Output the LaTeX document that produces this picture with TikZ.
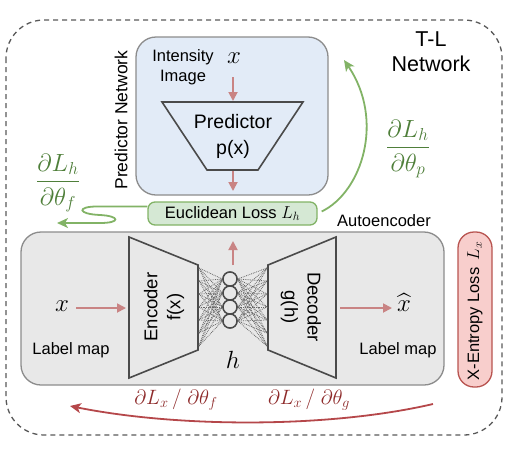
\documentclass[tikz,border=0pt]{standalone}
\usepackage{amsmath}
\usepackage{fontspec}
\setmainfont{Liberation Sans}
\usetikzlibrary{arrows.meta}
\definecolor{predfill}{HTML}{E2EBF7}
\definecolor{aefill}{HTML}{E8E8E8}
\definecolor{boxline}{HTML}{8C8C8C}
\definecolor{eucfill}{HTML}{D5E8D4}
\definecolor{eucline}{HTML}{82B366}
\definecolor{xefill}{HTML}{F8CECC}
\definecolor{xeline}{HTML}{B85450}
\definecolor{rosy}{HTML}{C98484}
\definecolor{gtext}{HTML}{4F7F3A}
\definecolor{rtext}{HTML}{8E2B2B}
\definecolor{rarr}{HTML}{B5474A}
\definecolor{trline}{HTML}{4A4A4A}
\begin{document}
\begin{tikzpicture}[x=1pt,y=-1pt,
  bigbox/.style={draw=boxline, line width=1.3pt, rounded corners=20},
  trap/.style={draw=trline, line width=1.6pt, line join=miter},
  rarrow/.style={draw=rosy, line width=1.8pt, -{Triangle[length=9pt,width=9pt]}},
  garrow/.style={draw=eucline, line width=1.8pt, -{Stealth[length=11pt,width=10pt,inset=3pt]}},
  redarrow/.style={draw=rarr, line width=1.8pt, -{Stealth[length=11pt,width=10pt,inset=3pt]}},
  lbl/.style={font=\fontsize{16.5}{18}\selectfont},
  big/.style={font=\fontsize{19.5}{22}\selectfont, align=center},
  mth/.style={font=\fontsize{24}{26}\selectfont, inner sep=1pt},
  frac/.style={font=\fontsize{25}{27}\selectfont},
  rfrac/.style={font=\fontsize{22}{24}\selectfont, text=rtext},
  neuron/.style={circle, draw=trline, line width=1.4pt, minimum size=14, inner sep=0pt},
  conn/.style={draw=black!60, densely dotted, line width=0.8pt}
]
\useasboundingbox (0,0) rectangle (510,450);
% outer dashed T-L network
\draw[draw=black!65, line width=1.3pt, dash pattern=on 5pt off 4pt, rounded corners=38] (6,20) rectangle (502,435);
\node[big, font=\fontsize{21.5}{25}\selectfont] (tl) at (431,52) {T-L\\Network};

% predictor network box
\node[bigbox, fill=predfill, minimum width=192, minimum height=158, inner sep=0pt] (pbox) at (232,116) {};
\node[lbl, rotate=90, font=\fontsize{17.5}{19}\selectfont] (pnlab) at (121,120) {Predictor Network};
\node[lbl, align=center, font=\fontsize{16.5}{20}\selectfont] (intens) at (183,67) {Intensity\\Image};
\node[mth] (xp) at (234,58) {$x$};
\fill[predfill] (162,102) -- (303,102) -- (258,170) -- (207,170) -- cycle;
\draw[trap] (162,102) -- (303,102) -- (258,170) -- (207,170) -- cycle;
\coordinate (ptop) at (233,101);
\coordinate (pbot) at (233,171);
\node[big, font=\fontsize{19.5}{26}\selectfont] (ptxt) at (233,136) {Predictor\\p(x)};
\draw[rarrow] (233,77) -- (ptop);
\coordinate (pout) at (233,191);
\draw[rarrow] (pbot) -- (pout);

% euclidean loss
\node[draw=eucline, fill=eucfill, line width=1.3pt, rounded corners=7, minimum width=169, minimum height=23, inner sep=0pt, lbl] (euc) at (232.5,213.5) {Euclidean Loss $L_h$};

% green arrows
\coordinate (gl) at (57,223);
\draw[garrow] (euc.west) ++(0,-7) -- (97,206.5) .. controls (77,206.5) and (77,214) .. (100,215) .. controls (120,216) and (121,223) .. (100,223) -- (gl);
\node[frac, text=gtext] (dlhf) at (58,183) {$\dfrac{\partial L_h}{\partial \theta_f}$};
\coordinate (gr) at (344,60);
\draw[garrow] (euc.east) ++(4,-2) .. controls (362,192) and (385,120) .. (gr);
\node[frac, text=gtext] (dlhp) at (408,149) {$\dfrac{\partial L_h}{\partial \theta_p}$};

% autoencoder box
\node[bigbox, fill=aefill, minimum width=423, minimum height=153, inner sep=0pt] (aebox) at (232.5,308.5) {};
\node[lbl] (aelab) at (384,221) {Autoencoder};

% encoder
\draw[trap, fill=aefill] (129,237) -- (198,265) -- (198,350) -- (129,378) -- cycle;
\node[big, rotate=90, font=\fontsize{18.5}{23}\selectfont] (enc) at (164,307) {Encoder\\f(x)};
% decoder
\draw[trap, fill=aefill] (268,265) -- (336,237) -- (336,378) -- (268,350) -- cycle;
\node[big, rotate=-90, font=\fontsize{18.5}{23}\selectfont] (dec) at (301,307) {Decoder\\g(h)};

% neurons
\foreach \i/\y in {1/279,2/293,3/307,4/321}{
  \node[neuron] (n\i) at (230,\y) {};
}
\foreach \y in {268,281,294,307,320,333,346}{
  \foreach \i in {1,2,3,4}{
    \draw[conn] (199,\y) -- (n\i.west);
    \draw[conn] (n\i.east) -- (267,\y);
  }
}
\foreach \i in {1,2,3,4}{\node[neuron, fill=aefill] at (n\i) {};}
\coordinate (hup) at (233,241);
\draw[rarrow] (233,265) -- (hup);
\node[mth] (h) at (233,360) {$h$};

% input / output
\node[mth] (xin) at (62,306) {$x$};
\coordinate (encin) at (126,308);
\draw[rarrow] (76,308) -- (encin);
\node[lbl] (lm1) at (71,350) {Label map};
\node[mth] (xhat) at (404,303) {$\widehat{x}$};
\coordinate (xhin) at (392,308);
\draw[rarrow] (340,308) -- (xhin);
\node[lbl] (lm2) at (398,350) {Label map};

% x-entropy loss
\node[draw=xeline, fill=xefill, line width=1.3pt, rounded corners=16, minimum width=34, minimum height=155, inner sep=0pt] (xe) at (475,309.5) {};
\node[lbl, rotate=90] (xelab) at (475,311) {X-Entropy Loss \,$L_x$};

% red backprop arrow
\coordinate (rl) at (70,406);
\draw[redarrow] (433,404) .. controls (330,428) and (180,428) .. (rl);
\node[rfrac] (dlxf) at (176,400) {$\partial L_x\,/\;\partial \theta_f$};
\node[rfrac] (dlxg) at (309,400) {$\partial L_x\,/\;\partial \theta_g$};
\end{tikzpicture}
\end{document}
